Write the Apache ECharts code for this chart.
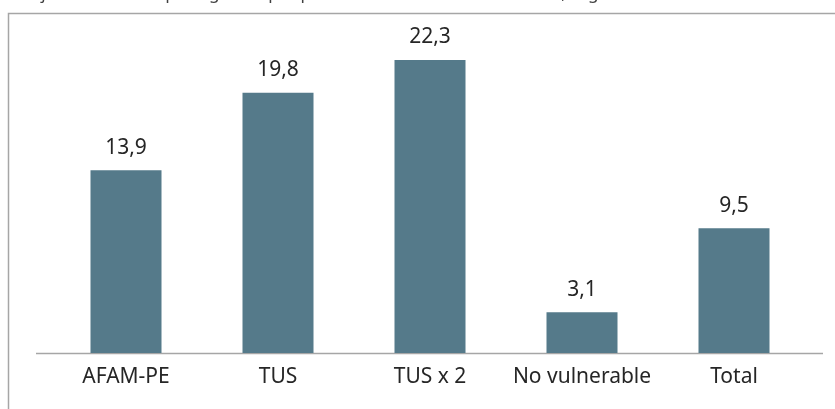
<!DOCTYPE html>
<html>
<head>
<meta charset="utf-8">
<script src="https://cdn.jsdelivr.net/npm/echarts@6/dist/echarts.min.js"></script>
<style>html,body{margin:0;padding:0;background:#fff}#c{width:835px;height:409px}</style>
</head>
<body>
<div id="c"></div>
<script>
const categories = ['AFAM-PE', 'TUS', 'TUS x 2', 'No vulnerable', 'Total'];
const values = [13.9, 19.8, 22.3, 3.1, 9.5];
const titleText = 'Porcentaje de menores que ingresan por primera vez al sistema educativo, según condición de vulnerabilidad';

const chart = echarts.init(document.getElementById('c'), null, {renderer: 'canvas'});
const FONT = 'Noto Sans';
chart.setOption({
  animation: false,
  textStyle: {fontFamily: FONT},
  grid: {left: 50, right: 25, top: 24.5, bottom: 56, containLabel: false},
  graphic: [
    {type: 'rect', shape: {x: 8.5, y: 13.5, width: 840, height: 420}, style: {fill: 'none', stroke: '#a6a6a6', lineWidth: 1.5}, z: -1},
    {type: 'line', shape: {x1: 36, y1: 353.5, x2: 823, y2: 353.5}, style: {stroke: '#a6a6a6', lineWidth: 1.5}},
    {type: 'text', left: -30, top: -14, style: {text: titleText, fontFamily: FONT, fontSize: 17, fill: '#404040'}}
  ],
  xAxis: {
    type: 'category',
    data: categories,
    axisLine: {show: false},
    axisTick: {show: false},
    axisLabel: {fontSize: 21, color: '#262626', margin: 14, interval: 0, hideOverlap: false, fontFamily: FONT}
  },
  yAxis: {
    type: 'value', min: 0, max: 25,
    show: false,
    splitLine: {show: false}
  },
  series: [{
    type: 'bar',
    data: values,
    barWidth: 71,
    itemStyle: {color: '#557A8A'},
    label: {
      show: true, position: 'top', distance: 12,
      fontSize: 21, color: '#262626', fontFamily: FONT,
      formatter: p => p.value.toFixed(1).replace('.', ',')
    }
  }]
});
</script>
</body>
</html>
